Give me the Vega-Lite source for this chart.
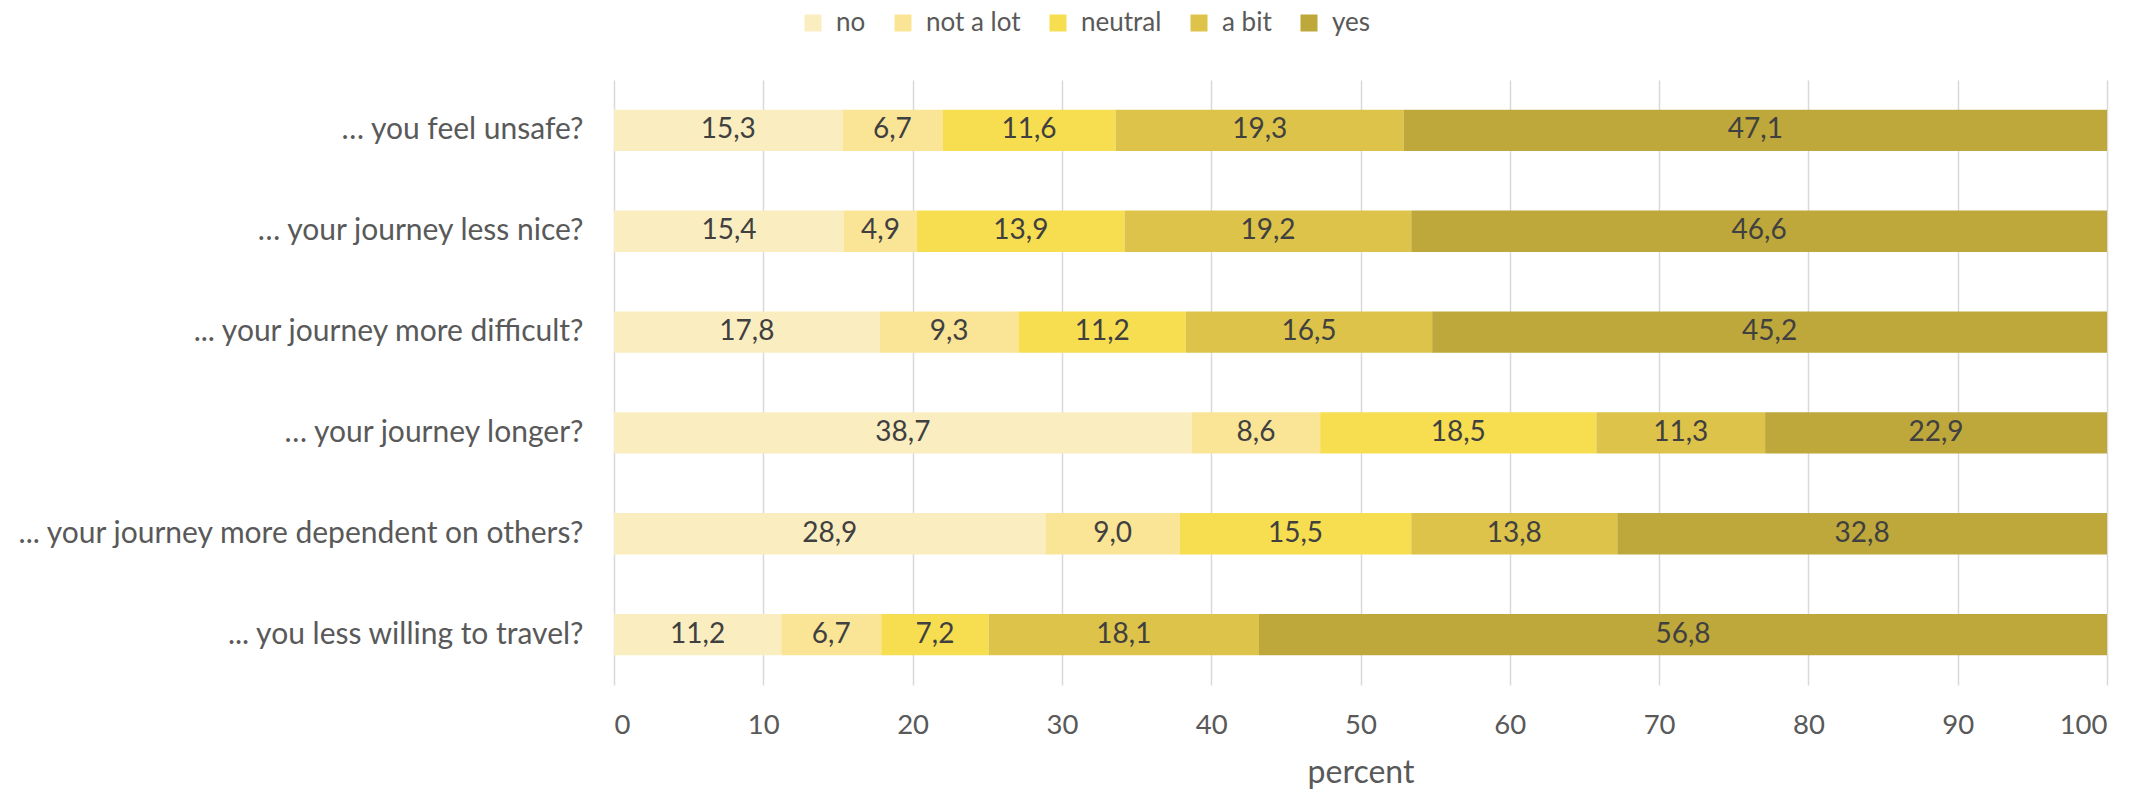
{
  "$schema": "https://vega.github.io/schema/vega-lite/v6.json",
  "autosize": {"type": "none"},
  "padding": {"left": 614, "top": 80, "right": 36, "bottom": 107},
  "width": 1493,
  "height": 605,
  "config": {
    "font": "Lato",
    "view": {"stroke": null},
    "locale": {"number": {"decimal": ",", "thousands": ".", "grouping": [3], "currency": ["", " €"]}}
  },
  "data": {
    "values": [
      {"question": "… you feel unsafe?", "answer": "no", "percent": 15.3},
      {"question": "… you feel unsafe?", "answer": "not a lot", "percent": 6.7},
      {"question": "… you feel unsafe?", "answer": "neutral", "percent": 11.6},
      {"question": "… you feel unsafe?", "answer": "a bit", "percent": 19.3},
      {"question": "… you feel unsafe?", "answer": "yes", "percent": 47.1},
      {"question": "… your journey less nice?", "answer": "no", "percent": 15.4},
      {"question": "… your journey less nice?", "answer": "not a lot", "percent": 4.9},
      {"question": "… your journey less nice?", "answer": "neutral", "percent": 13.9},
      {"question": "… your journey less nice?", "answer": "a bit", "percent": 19.2},
      {"question": "… your journey less nice?", "answer": "yes", "percent": 46.6},
      {"question": "... your journey more difficult?", "answer": "no", "percent": 17.8},
      {"question": "... your journey more difficult?", "answer": "not a lot", "percent": 9.3},
      {"question": "... your journey more difficult?", "answer": "neutral", "percent": 11.2},
      {"question": "... your journey more difficult?", "answer": "a bit", "percent": 16.5},
      {"question": "... your journey more difficult?", "answer": "yes", "percent": 45.2},
      {"question": "… your journey longer?", "answer": "no", "percent": 38.7},
      {"question": "… your journey longer?", "answer": "not a lot", "percent": 8.6},
      {"question": "… your journey longer?", "answer": "neutral", "percent": 18.5},
      {"question": "… your journey longer?", "answer": "a bit", "percent": 11.3},
      {"question": "… your journey longer?", "answer": "yes", "percent": 22.9},
      {"question": "... your journey more dependent on others?", "answer": "no", "percent": 28.9},
      {"question": "... your journey more dependent on others?", "answer": "not a lot", "percent": 9.0},
      {"question": "... your journey more dependent on others?", "answer": "neutral", "percent": 15.5},
      {"question": "... your journey more dependent on others?", "answer": "a bit", "percent": 13.8},
      {"question": "... your journey more dependent on others?", "answer": "yes", "percent": 32.8},
      {"question": "... you less willing to travel?", "answer": "no", "percent": 11.2},
      {"question": "... you less willing to travel?", "answer": "not a lot", "percent": 6.7},
      {"question": "... you less willing to travel?", "answer": "neutral", "percent": 7.2},
      {"question": "... you less willing to travel?", "answer": "a bit", "percent": 18.1},
      {"question": "... you less willing to travel?", "answer": "yes", "percent": 56.8}
    ]
  },
  "transform": [
    {"calculate": "indexof(['no','not a lot','neutral','a bit','yes'], datum.answer)", "as": "rank"},
    {"stack": "percent", "groupby": ["question"], "sort": [{"field": "rank", "order": "ascending"}], "as": ["x0", "x1"]},
    {"calculate": "(datum.x0 + datum.x1) / 2", "as": "mid"}
  ],
  "encoding": {
    "y": {
      "field": "question",
      "type": "nominal",
      "sort": null,
      "scale": {"paddingInner": 0.59, "paddingOuter": 0.295},
      "axis": {
        "title": null,
        "domain": false,
        "ticks": false,
        "labelFontSize": 30,
        "labelColor": "#595959",
        "labelPadding": 31,
        "labelLimit": 700
      }
    }
  },
  "layer": [
    {
      "mark": {"type": "bar"},
      "encoding": {
        "x": {
          "field": "x0",
          "type": "quantitative",
          "scale": {"domain": [0, 100], "nice": false},
          "axis": {
            "title": "percent",
            "values": [0, 10, 20, 30, 40, 50, 60, 70, 80, 90, 100],
            "grid": true,
            "gridColor": "#D9D9D9",
            "gridWidth": 1.5,
            "domain": false,
            "ticks": false,
            "labelFontSize": 27.5,
            "labelColor": "#595959",
            "labelPadding": 26,
            "titleFontSize": 32,
            "titleFontWeight": "normal",
            "titleColor": "#595959",
            "titlePadding": 19
          }
        },
        "x2": {"field": "x1"},
        "color": {
          "field": "answer",
          "type": "nominal",
          "sort": ["no", "not a lot", "neutral", "a bit", "yes"],
          "scale": {
            "domain": ["no", "not a lot", "neutral", "a bit", "yes"],
            "range": ["#FAEEC0", "#FAE597", "#F7DD50", "#DDC349", "#BEA73B"]
          },
          "legend": {
            "title": null,
            "orient": "none",
            "direction": "horizontal",
            "legendX": 186,
            "legendY": -70,
            "symbolType": "square",
            "symbolSize": 289,
            "symbolStrokeWidth": 0,
            "labelFontSize": 26,
            "labelColor": "#595959",
            "columnPadding": 24,
            "labelOffset": 10
          }
        }
      }
    },
    {
      "mark": {"type": "text", "fontSize": 28, "color": "#404040", "baseline": "middle", "align": "center"},
      "encoding": {
        "x": {"field": "mid", "type": "quantitative"},
        "text": {"field": "percent", "type": "quantitative", "format": ".1f"}
      }
    }
  ]
}
